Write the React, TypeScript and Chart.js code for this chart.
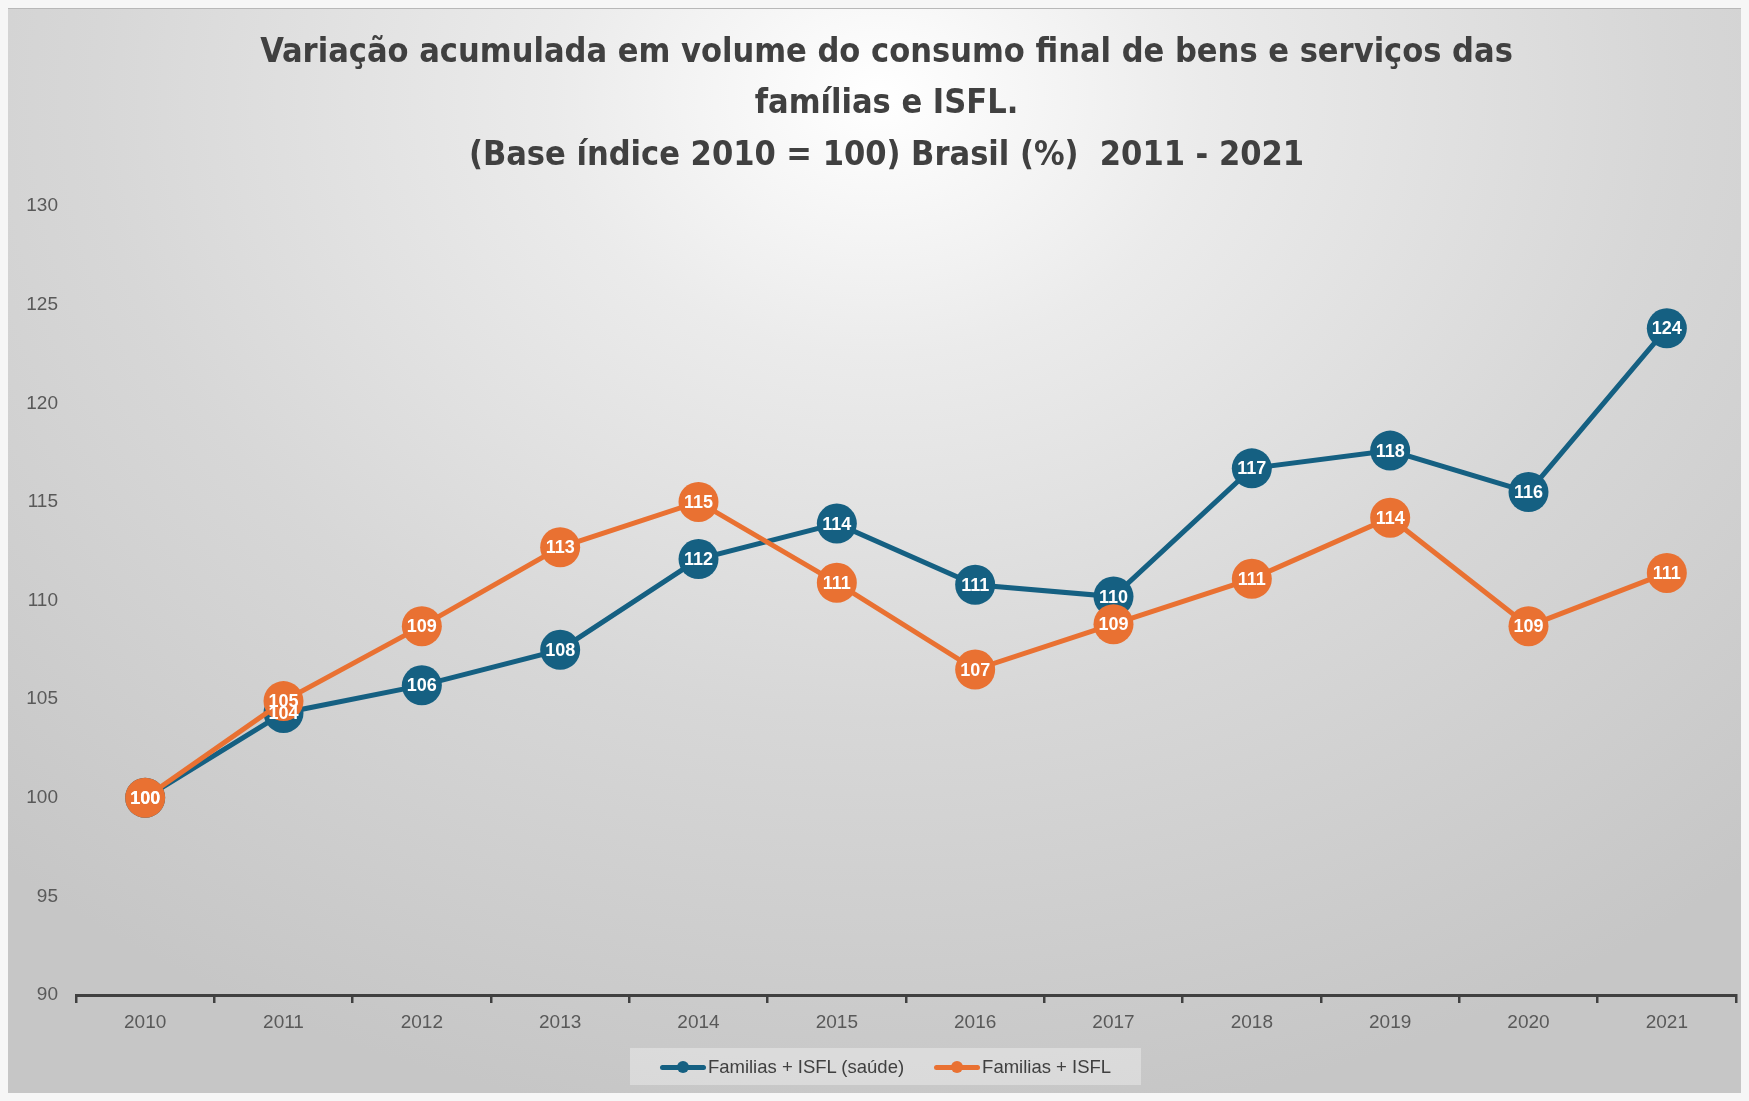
import React, { useEffect, useRef } from "react";
import { Chart, registerables } from "chart.js";

Chart.register(...registerables);

const years = ["2010", "2011", "2012", "2013", "2014", "2015", "2016", "2017", "2018", "2019", "2020", "2021"];
const saudeSeries = [100, 104.3, 105.7, 107.5, 112.1, 113.9, 110.8, 110.2, 116.7, 117.6, 115.5, 123.8];
const familiasSeries = [100, 104.9, 108.7, 112.7, 115.0, 110.9, 106.5, 108.8, 111.1, 114.2, 108.7, 111.4];
const seriesNames = ["Familias + ISFL (saúde)", "Familias + ISFL"];
const titleLines = [
  "Variação acumulada em volume do consumo final de bens e serviços das",
  "famílias e ISFL.",
  "(Base índice 2010 = 100) Brasil (%)  2011 - 2021",
];
const yMin = 90;
const yMax = 130;
const yStep = 5;

const BLUE = "#156082";
const ORANGE = "#E97132";
const W = 1741;
const H = 1093;

const pointLabelPlugin = {
  id: "pointLabels",
  afterDatasetsDraw(chart: any) {
    const ctx = chart.ctx;
    ctx.save();
    ctx.font = 'bold 18px "Liberation Sans", Arial, sans-serif';
    ctx.fillStyle = "#ffffff";
    ctx.textAlign = "center";
    ctx.textBaseline = "middle";
    chart.data.datasets.forEach((ds: any, i: number) => {
      const meta = chart.getDatasetMeta(i);
      meta.data.forEach((pt: any, j: number) => {
        const v = ds.data[j] as number;
        ctx.fillText(String(Math.round(v)), pt.x, pt.y + 1);
      });
    });
    ctx.restore();
  },
};

const titleShiftPlugin = {
  id: "titleShift",
  afterLayout(chart: any) {
    const t = chart.titleBlock;
    if (t) {
      t.left += 14.5;
      t.right += 14.5;
    }
  },
};

function LegendItem({ color, label }: { color: string; label: string }) {
  return (
    <div style={{ display: "flex", alignItems: "center" }}>
      <span style={{ position: "relative", width: 46, height: 12, display: "inline-block", marginRight: 2 }}>
        <span style={{ position: "absolute", left: 0, right: 0, top: 4, height: 5, background: color, borderRadius: 3 }} />
        <span style={{ position: "absolute", left: 17, top: 0, width: 12, height: 12, background: color, borderRadius: 6 }} />
      </span>
      <span>{label}</span>
    </div>
  );
}

export default function App() {
  const ref = useRef<HTMLCanvasElement | null>(null);

  useEffect(() => {
    document.body.style.background = "#f6f6f6";
    const canvas = ref.current;
    if (!canvas) return;
    const chart = new Chart(canvas, {
      type: "line",
      data: {
        labels: years,
        datasets: [
          {
            label: seriesNames[0],
            data: saudeSeries,
            borderColor: BLUE,
            backgroundColor: BLUE,
            borderWidth: 5,
            pointRadius: 20,
            pointHoverRadius: 20,
            pointBorderWidth: 0,
            pointBackgroundColor: BLUE,
            tension: 0,
            order: 1,
          },
          {
            label: seriesNames[1],
            data: familiasSeries,
            borderColor: ORANGE,
            backgroundColor: ORANGE,
            borderWidth: 5,
            pointRadius: 20,
            pointHoverRadius: 20,
            pointBorderWidth: 0,
            pointBackgroundColor: ORANGE,
            tension: 0,
            order: 0,
          },
        ],
      },
      options: {
        responsive: false,
        animation: false,
        events: [],
        layout: { autoPadding: false, padding: { top: 0, left: 0, right: 13, bottom: 56 } },
        plugins: {
          legend: { display: false },
          tooltip: { enabled: false },
          title: {
            display: true,
            text: titleLines,
            color: "#404040",
            font: { family: '"Liberation Sans Narrow", "DejaVu Sans Condensed", "Liberation Sans", sans-serif', size: 34, weight: "bold", lineHeight: 1.52 },
            padding: { top: 19, bottom: 24 },
          },
        },
        scales: {
          x: {
            offset: true,
            grid: {
              display: true,
              drawOnChartArea: false,
              drawTicks: true,
              tickLength: 8,
              color: "#404040",
              lineWidth: 2.5,
              offset: true,
            },
            border: { display: true, color: "#404040", width: 3 },
            ticks: {
              color: "#595959",
              padding: 8,
              font: { family: '"Liberation Sans", Arial, sans-serif', size: 19 },
            },
            afterFit: (scale: any) => {
              scale.height = 50;
              scale.paddingLeft = 0;
              scale.paddingRight = 0;
            },
          },
          y: {
            min: yMin,
            max: yMax,
            grid: { display: false, drawTicks: false },
            border: { display: false },
            ticks: {
              stepSize: yStep,
              color: "#595959",
              padding: 18,
              font: { family: '"Liberation Sans", Arial, sans-serif', size: 19 },
            },
            afterFit: (scale: any) => {
              scale.width = 68;
            },
          },
        },
      },
      plugins: [pointLabelPlugin, titleShiftPlugin],
    });
    return () => chart.destroy();
  }, []);

  return (
    <div
      style={{
        position: "relative",
        width: W,
        height: H,
        marginBottom: -8,
        borderTop: "1px solid #b8b8b8",
        boxSizing: "border-box",
        background:
          "radial-gradient(ellipse 75% 95% at 50% 8%, #ffffff 0%, #ebebeb 25%, #d7d7d7 60%, #c6c6c6 100%)",
      }}
    >
      <canvas ref={ref} width={W} height={H} style={{ position: "absolute", left: 0, top: -1, display: "block" }} />
      <div
        style={{
          position: "absolute",
          left: 622,
          top: 1039,
          width: 511,
          height: 37,
          background: "rgba(255,255,255,0.33)",
          display: "flex",
          alignItems: "center",
          justifyContent: "center",
          gap: 30,
          fontFamily: '"Liberation Sans", Arial, sans-serif',
          fontSize: 18.5,
          color: "#404040",
        }}
      >
        <LegendItem color={BLUE} label={seriesNames[0]} />
        <LegendItem color={ORANGE} label={seriesNames[1]} />
      </div>
    </div>
  );
}
